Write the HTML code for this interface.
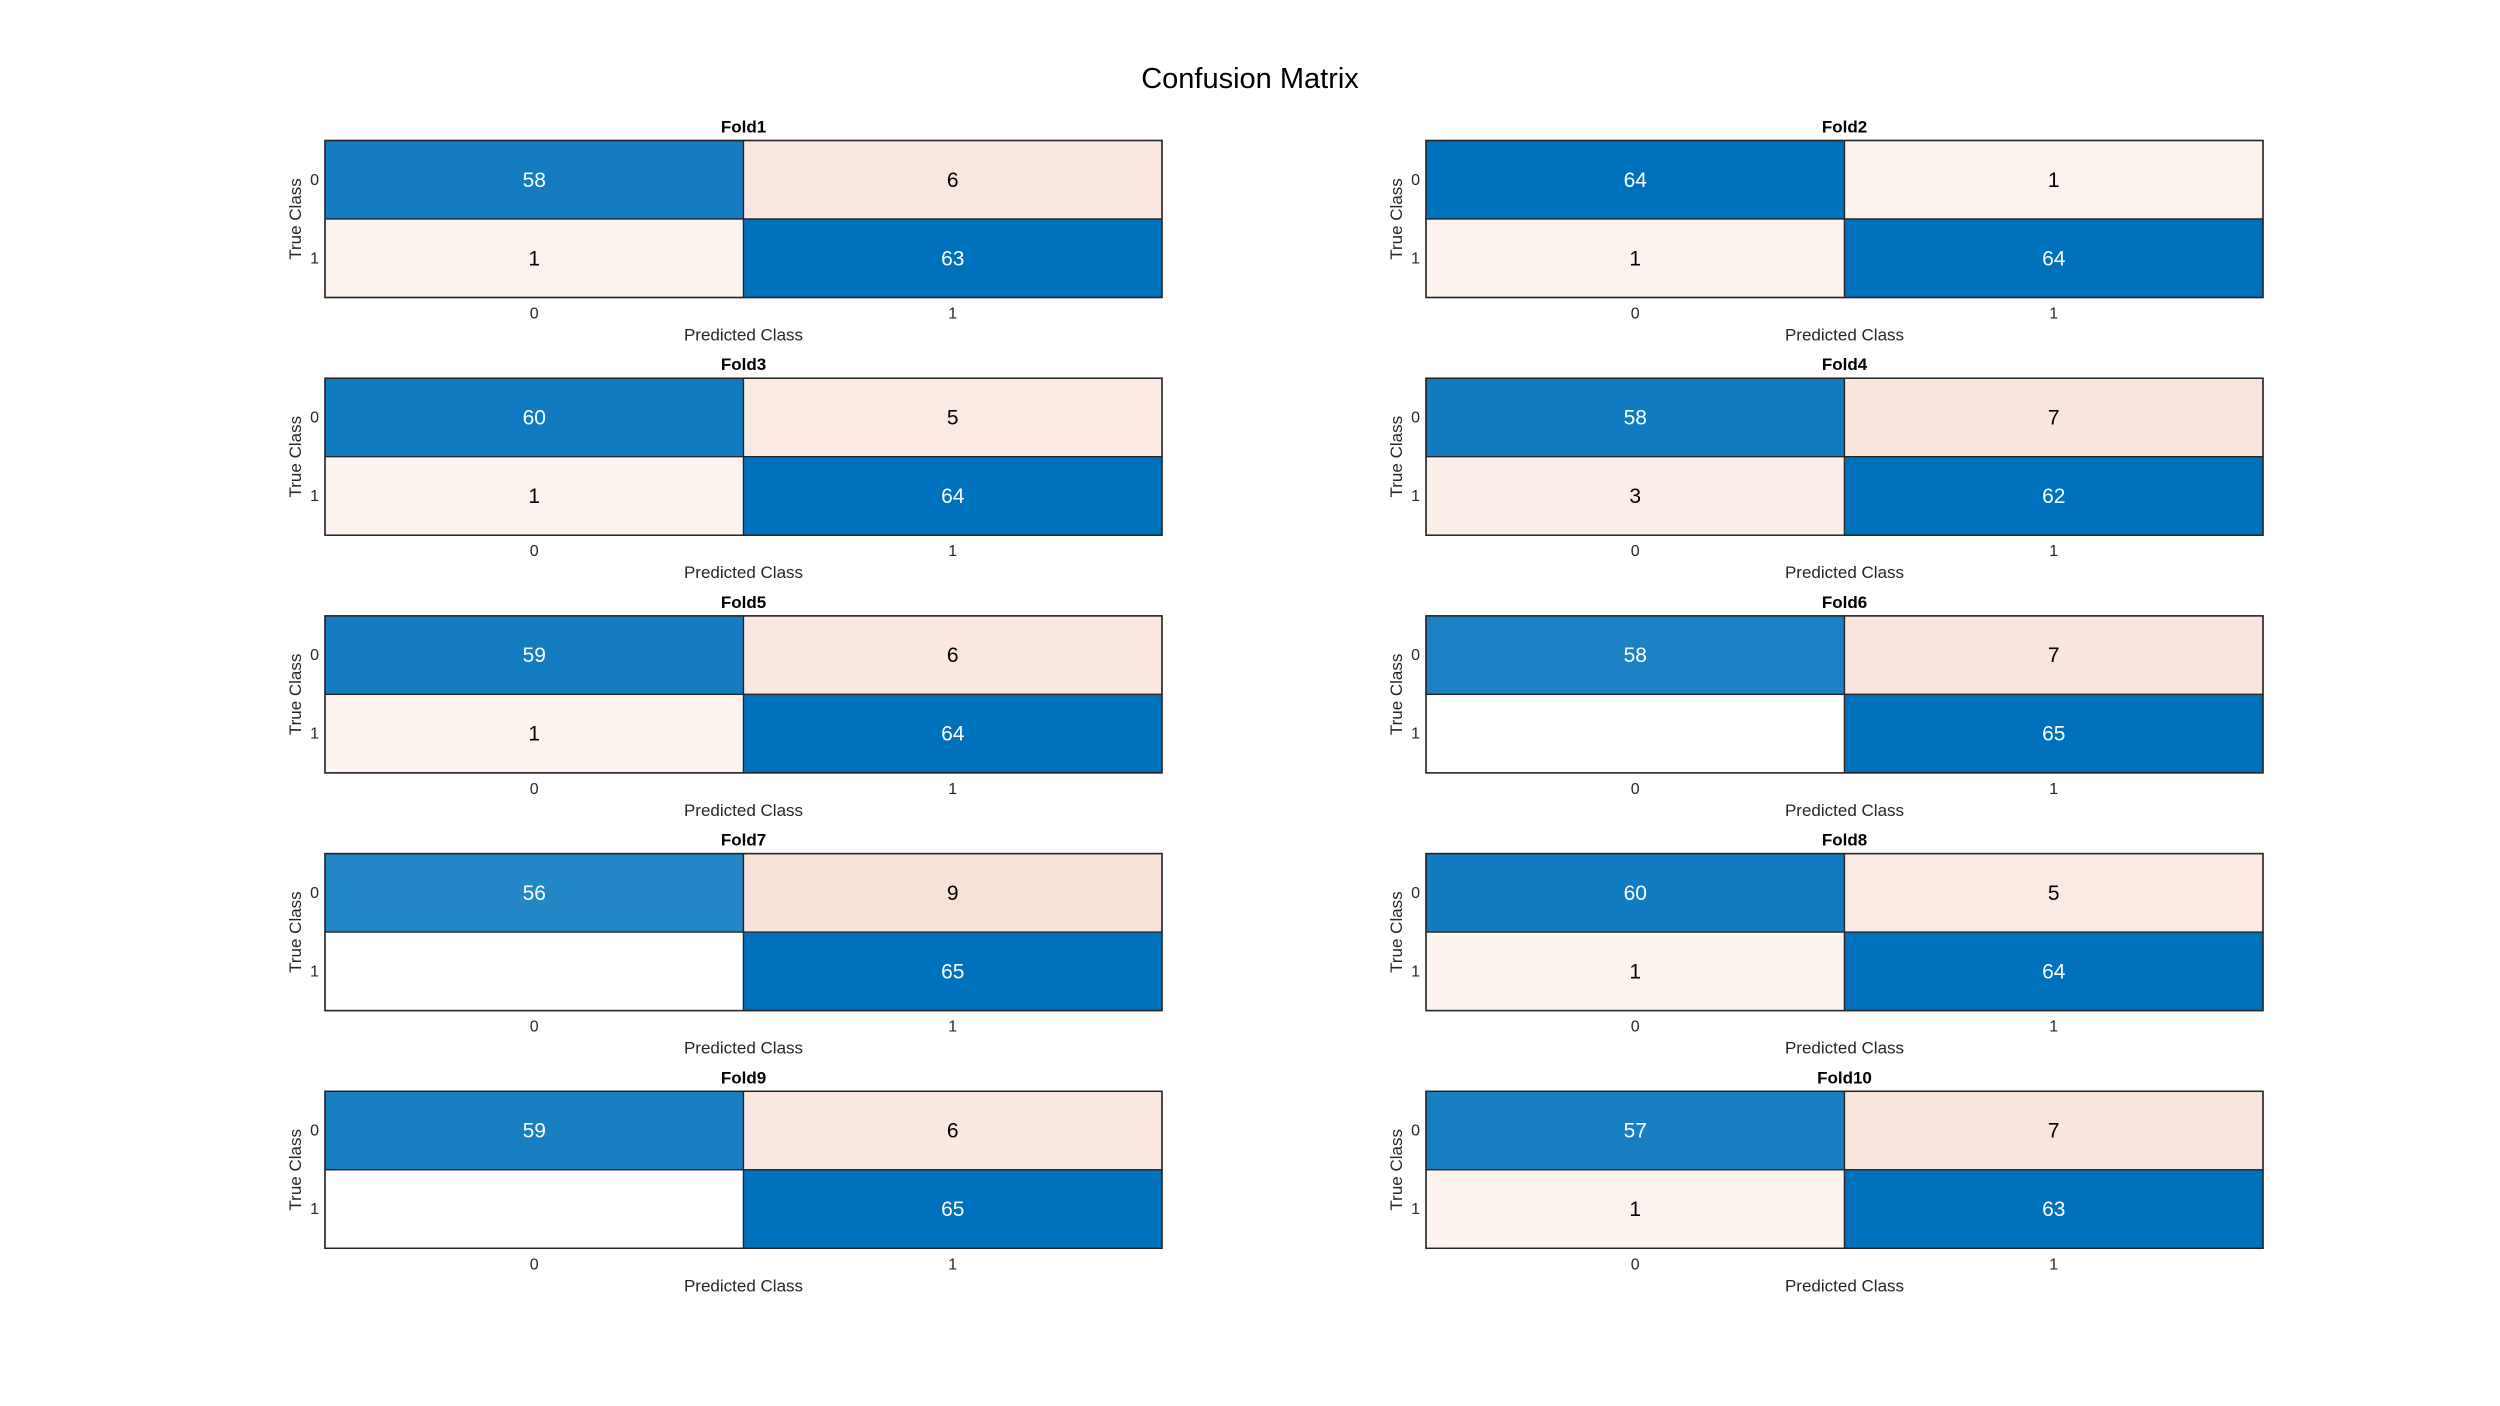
<!DOCTYPE html>
<html><head><meta charset="utf-8"><style>
html,body{margin:0;padding:0;background:#fff;}
svg{display:block;font-family:"Liberation Sans",Arial,sans-serif;}
</style></head><body>
<svg id="fig" width="2500" height="1406" viewBox="0 0 2500 1406">
<text x="1250" y="88" font-size="29" text-anchor="middle" fill="#000">Confusion Matrix</text>
</svg>
<script>
const foldNames = ["Fold1","Fold2","Fold3","Fold4","Fold5","Fold6","Fold7","Fold8","Fold9","Fold10"];
const tn = [58,64,60,58,59,58,56,60,59,57];
const fp = [6,1,5,7,6,7,9,5,6,7];
const fn = [1,1,1,3,1,0,0,1,0,1];
const tp = [63,64,64,62,64,65,65,64,65,63];
const classLabels = ["0","1"];

const svg = document.getElementById('fig');
const NS = 'http://www.w3.org/2000/svg';
function mk(tag, attrs, parent){const e=document.createElementNS(NS,tag);for(const k in attrs)e.setAttribute(k,attrs[k]);(parent||svg).appendChild(e);return e;}
function mix(c,f){f=Math.max(0,Math.min(1,f));return 'rgb('+c.map(v=>Math.round(255+(v-255)*f)).join(',')+')';}
const BLUE=[0,114,189], RED=[217,83,25];
const colX=[325,1426], W=837, H=157, top0=140.5, step=237.7;

foldNames.forEach((name,i)=>{
  const g = mk('g',{});
  
  
  const x0 = colX[i%2], y0 = top0 + step*Math.floor(i/2);
  const m = [[tn[i],fp[i]],[fn[i],tp[i]]];
  const mx = Math.max(tn[i],fp[i],fn[i],tp[i]);
  const cw = W/2, ch = H/2;
  for(let r=0;r<2;r++)for(let c=0;c<2;c++){
    const v = m[r][c];
    const diag = r===c;
    const fill = diag ? mix(BLUE, v/mx) : (v>0 ? mix(RED, 0.056 + 0.86*v/mx) : '#fff');
    const rect = mk('rect',{x:x0+c*cw,y:y0+r*ch,width:cw,height:ch,fill:fill,stroke:'#262626','stroke-width':1.3},g);
    
    
    if(v>0){
      const t = mk('text',{x:x0+c*cw+cw/2,y:y0+r*ch+ch/2+7,'font-size':21,'text-anchor':'middle',fill:(diag && v/mx>0.5)?'#fff':'#000'},g);
      t.textContent = v;
      
      
    }
  }
  mk('rect',{x:x0,y:y0,width:W,height:H,fill:'none',stroke:'#262626','stroke-width':1.5},g);
  const tt = mk('text',{x:x0+W/2,y:y0-8,'font-size':17,'font-weight':'bold','text-anchor':'middle',fill:'#000'},g);
  tt.textContent = name;
  
  
  classLabels.forEach((lab,k)=>{
    const xt = mk('text',{x:x0+k*cw+cw/2,y:y0+H+21,'font-size':16,'text-anchor':'middle',fill:'#262626'},g);
    xt.textContent = lab;
    
    
    const yt = mk('text',{x:x0-6,y:y0+k*ch+ch/2+5,'font-size':16,'text-anchor':'end',fill:'#262626'},g);
    yt.textContent = lab;
    
    
  });
  const xl = mk('text',{x:x0+W/2,y:y0+H+43,'font-size':17,'text-anchor':'middle',fill:'#262626'},g);
  xl.textContent = 'Predicted Class';
  
  
  const yx = x0-24, yy = y0+H/2;
  const yl = mk('text',{x:yx,y:yy,'font-size':17,'text-anchor':'middle',fill:'#262626',transform:'rotate(-90 '+yx+' '+yy+')'},g);
  yl.textContent = 'True Class';
  
  
});
</script>
</body></html>
